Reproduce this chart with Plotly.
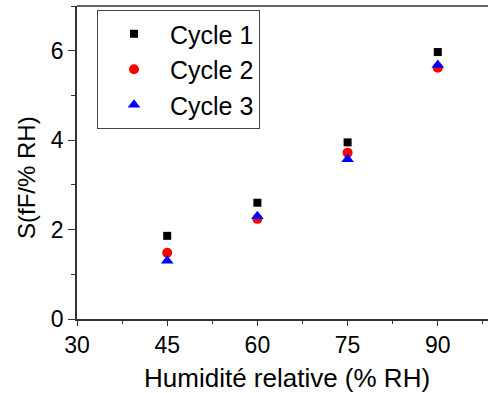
import plotly.graph_objects as go

humidity = [45, 60, 75, 90]
cycle1 = [1.86, 2.60, 3.95, 5.97]
cycle2 = [1.48, 2.24, 3.72, 5.62]
cycle3 = [1.30, 2.30, 3.57, 5.68]
x_ticks = [30, 45, 60, 75, 90]
y_ticks = [0, 2, 4, 6]

FONT = "Arial, Liberation Sans, sans-serif"

fig = go.Figure()
fig.add_trace(go.Scatter(x=humidity, y=cycle1, mode="markers", name="Cycle 1",
                         marker=dict(symbol="square", size=8, color="black")))
fig.add_trace(go.Scatter(x=humidity, y=cycle2, mode="markers", name="Cycle 2",
                         marker=dict(symbol="circle", size=10, color="red")))
fig.add_trace(go.Scatter(x=humidity, y=cycle3, mode="markers", name="Cycle 3",
                         marker=dict(symbol="triangle-up", size=11, color="blue")))

axis_common = dict(showgrid=False, zeroline=False, showline=True, linecolor="#333",
                   linewidth=1.5, ticks="outside", tickcolor="#333", tickwidth=1,
                   automargin=False,
                   tickfont=dict(family=FONT, size=23, color="black"))

fig.update_xaxes(range=[30, 98.35], tickvals=x_ticks, ticklen=5,
                 minor=dict(dtick=7.5, tick0=30, ticks="outside", ticklen=3, tickcolor="#333"),
                 **axis_common)
fig.update_yaxes(range=[0, 7], tickvals=y_ticks, ticklen=7,
                 minor=dict(dtick=1, tick0=0, ticks="outside", ticklen=4, tickcolor="#333"),
                 **axis_common)

fig.add_shape(type="line", xref="paper", yref="paper", x0=0, x1=1, y0=1, y1=1,
              line=dict(color="#333", width=1.5))

fig.add_annotation(text="Humidité relative (% RH)", xref="paper", yref="paper",
                   x=(286.5 - 77) / 411, y=-(378 - 319) / 313, showarrow=False,
                   xanchor="center", yanchor="middle",
                   font=dict(family=FONT, size=26, color="black"))
fig.add_annotation(text="S(fF/% RH)", xref="paper", yref="paper", textangle=-90,
                   x=-(77 - 26) / 411, y=(319 - 178) / 313, showarrow=False,
                   xanchor="center", yanchor="middle",
                   font=dict(family=FONT, size=24, color="black"))

fig.update_layout(
    width=489, height=393,
    margin=dict(l=77, r=1, t=6, b=74, autoexpand=False),
    plot_bgcolor="white", paper_bgcolor="white",
    showlegend=True,
    legend=dict(x=(97 - 77) / 411, y=(319 - 10) / 313, xanchor="left", yanchor="top",
                bordercolor="#444", borderwidth=1, bgcolor="white",
                font=dict(family=FONT, size=25, color="black"),
                itemwidth=62, tracegroupgap=0),
)

fig.write_html("out.html", config={"displayModeBar": False},
               post_script="document.body.style.margin='0';document.body.style.overflow='hidden';")
